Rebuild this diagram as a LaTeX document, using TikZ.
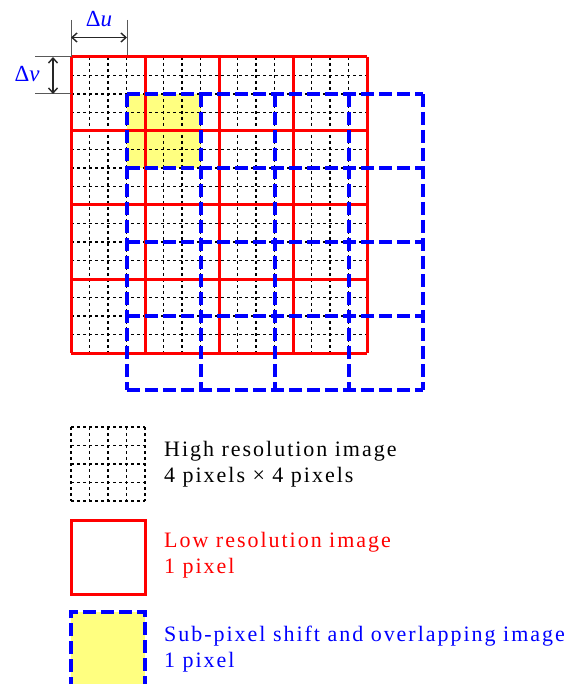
\documentclass[tikz,border=0pt]{standalone}
\usepackage{fontspec}
\setmainfont{Liberation Serif}
\usetikzlibrary{arrows.meta}
\definecolor{lyellow}{RGB}{255,255,128}
\begin{document}
\begin{tikzpicture}[x=1pt,y=-1pt,
  hidot/.style={black,line width=1.9pt,dash pattern=on 3pt off 3pt},
  loline/.style={red,line width=3pt},
  subline/.style={blue,line width=3.3pt,dash pattern=on 13pt off 5pt},
  extline/.style={black!65,line width=1pt},
  dimarrow/.style={black!85,line width=1.4pt,{Straight Barb[length=5pt,width=9pt]}-{Straight Barb[length=5pt,width=9pt]}},
  legtext/.style={anchor=base west,inner sep=0pt,font=\fontsize{22}{26}\selectfont\addfontfeatures{LetterSpace=9}},
  dimlabel/.style={anchor=base,inner sep=0pt,text=blue,font=\fontsize{23}{23}\selectfont}]
\useasboundingbox (0,0) rectangle (565,684);
% yellow overlapping pixel
\fill[lyellow] (127,94) rectangle (201,168);
% high resolution grid
\foreach \k in {0,...,16}{
  \draw[hidot] ({71+18.5*\k},57) -- ({71+18.5*\k},353);
  \draw[hidot] (71,{57+18.5*\k}) -- (367,{57+18.5*\k});
}
% low resolution grid
\foreach \k in {0,...,4}{
  \draw[loline] ({71+74*\k},57) -- ({71+74*\k},353);
  \draw[loline] (71,{57+74*\k}) -- (367,{57+74*\k});
}
% shifted grid
\foreach \k in {0,...,4}{
  \draw[subline] ({127+74*\k},94) -- ({127+74*\k},390);
  \draw[subline] (127,{94+74*\k}) -- (423,{94+74*\k});
}
% dimension lines
\coordinate (ua) at (71,37.5);
\coordinate (ub) at (127,37.5);
\coordinate (va) at (53,57);
\coordinate (vb) at (53,94);
\draw[extline] (71,20) -- (71,57);
\draw[extline] (127,20) -- (127,55);
\draw[extline] (35,57) -- (71,57);
\draw[extline] (35,94) -- (71,94);
\draw[dimarrow] (ua) -- (ub);
\draw[dimarrow] (va) -- (vb);
\node[dimlabel] (du) at (99,27) {Δ\textit{u}};
\node[dimlabel] (dv) at (27,82) {Δ\textit{v}};
% legend
\foreach \k in {0,...,4}{
  \draw[hidot] ({71+18.5*\k},427) -- ({71+18.5*\k},501);
  \draw[hidot] (71,{427+18.5*\k}) -- (145,{427+18.5*\k});
}
\draw[loline] (71,520) rectangle (145,594);
\fill[lyellow] (71,612) rectangle (145,690);
\draw[subline] (71,690) -- (71,612) -- (145,612) -- (145,690);
\node[legtext] (h1) at (164,456) {High resolution image};
\node[legtext] (h2) at (164,482) {4 pixels × 4 pixels};
\node[legtext,text=red] (l1) at (164,547) {Low resolution image};
\node[legtext,text=red] (l2) at (164,573) {1 pixel};
\node[legtext,text=blue] (s1) at (164,641) {Sub-pixel shift and overlapping image};
\node[legtext,text=blue] (s2) at (164,667) {1 pixel};
\end{tikzpicture}
\end{document}
